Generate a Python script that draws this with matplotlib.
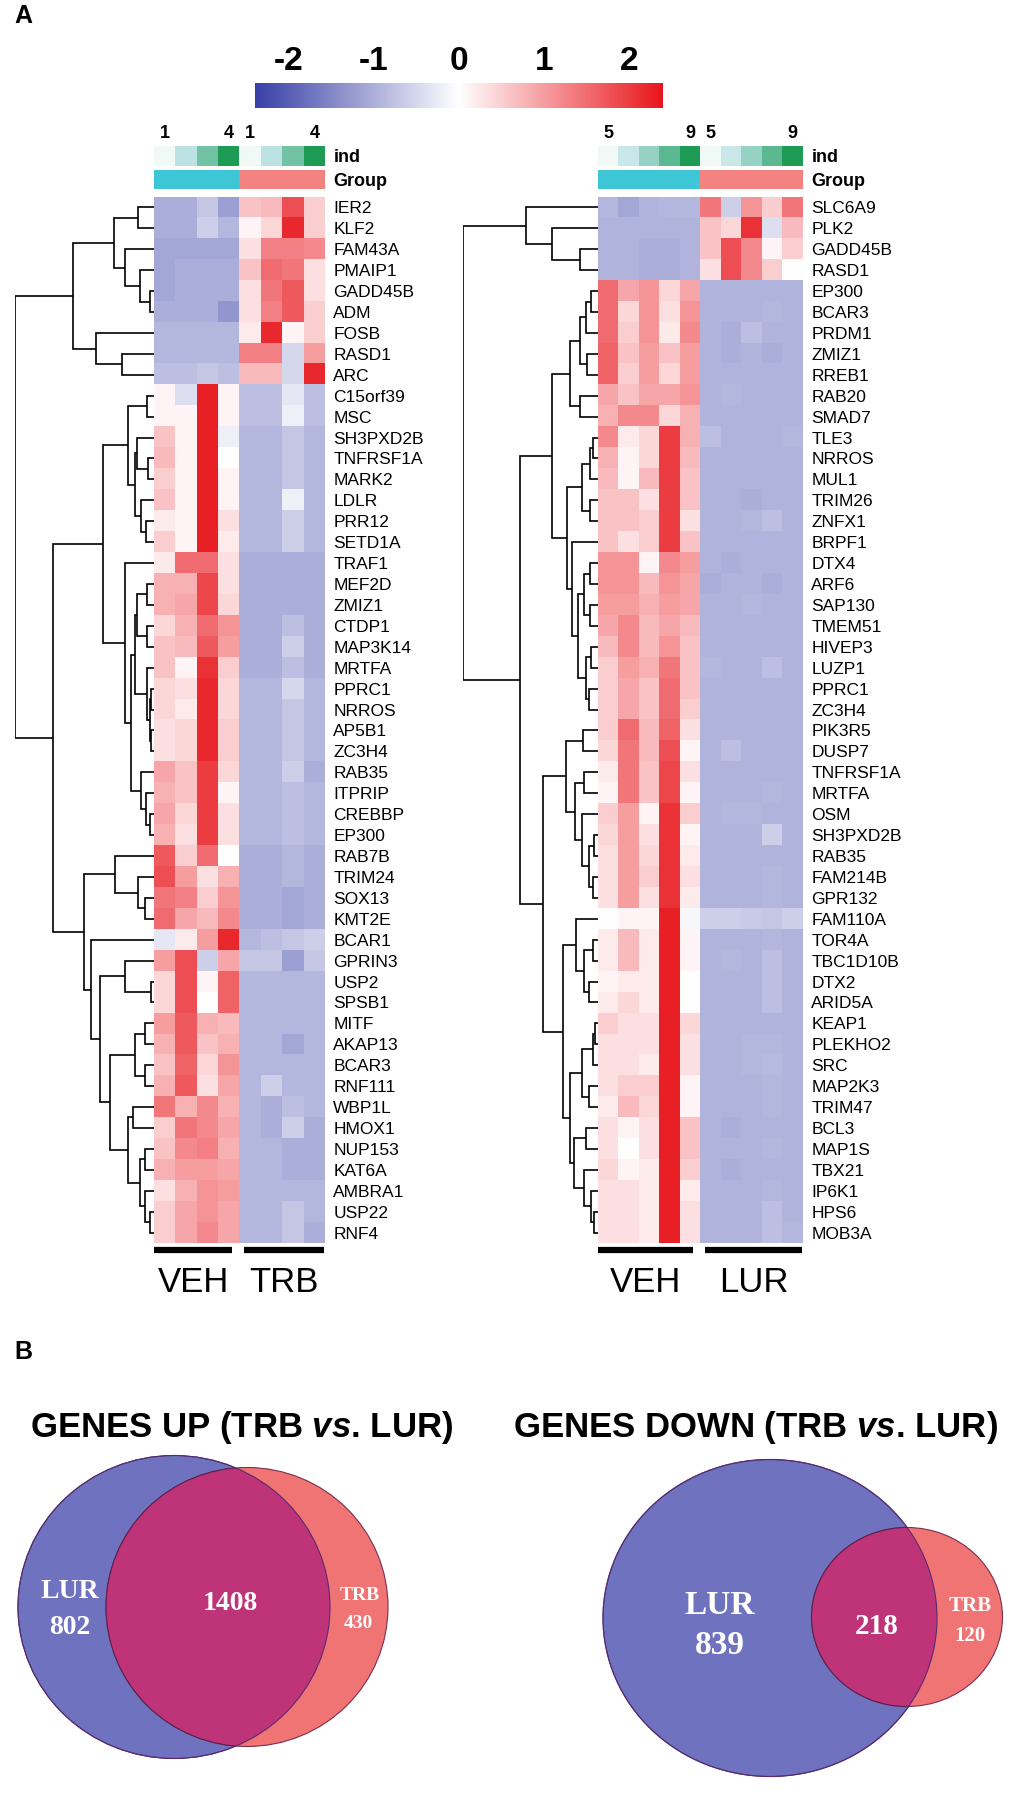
import numpy as np
import matplotlib
matplotlib.use("Agg")
import matplotlib.pyplot as plt
from matplotlib.colors import LinearSegmentedColormap, ListedColormap, Normalize
from matplotlib.cm import ScalarMappable
from matplotlib.patches import Ellipse

plt.rcParams['font.family'] = ['Liberation Sans', 'DejaVu Sans']
plt.rcParams['mathtext.fontset'] = 'custom'
plt.rcParams['mathtext.it'] = 'Liberation Sans:italic:bold'
plt.rcParams['mathtext.rm'] = 'Liberation Sans:bold'
plt.rcParams['axes.unicode_minus'] = False

W, H = 1018, 1802

# ---------------- data: left heatmap (VEH vs TRB) ----------------
genes_trb = ["IER2", "KLF2", "FAM43A", "PMAIP1", "GADD45B", "ADM", "FOSB", "RASD1", "ARC",
             "C15orf39", "MSC", "SH3PXD2B", "TNFRSF1A", "MARK2", "LDLR", "PRR12", "SETD1A",
             "TRAF1", "MEF2D", "ZMIZ1", "CTDP1", "MAP3K14", "MRTFA", "PPRC1", "NRROS", "AP5B1",
             "ZC3H4", "RAB35", "ITPRIP", "CREBBP", "EP300", "RAB7B", "TRIM24", "SOX13", "KMT2E",
             "BCAR1", "GPRIN3", "USP2", "SPSB1", "MITF", "AKAP13", "BCAR3", "RNF111", "WBP1L",
             "HMOX1", "NUP153", "KAT6A", "AMBRA1", "USP22", "RNF4"]
ind_trb = [1, 2, 3, 4, 1, 2, 3, 4]
group_trb = [0, 0, 0, 0, 1, 1, 1, 1]
z_trb = [
    [-1.0, -1.0, -0.7, -1.2, 0.6, 0.7, 1.8, 0.5],
    [-1.0, -1.0, -0.6, -0.9, 0.1, 0.4, 2.2, 0.5],
    [-1.1, -1.1, -1.1, -1.1, 0.3, 1.3, 1.3, 1.2],
    [-1.1, -1.0, -1.0, -1.0, 0.6, 1.5, 1.4, 0.3],
    [-1.1, -1.0, -1.0, -1.0, 0.3, 1.4, 1.7, 0.3],
    [-1.0, -1.0, -1.0, -1.3, 0.3, 1.3, 1.7, 0.5],
    [-0.9, -0.9, -0.9, -0.9, 0.2, 2.2, 0.1, 0.5],
    [-0.9, -0.9, -0.9, -0.9, 1.3, 1.3, -0.5, 1.0],
    [-0.8, -0.8, -0.7, -0.8, 0.7, 0.7, -0.5, 2.2],
    [0.1, -0.4, 2.3, 0.1, -0.8, -0.8, -0.3, -0.8],
    [0.1, 0.1, 2.3, 0.1, -0.8, -0.8, -0.2, -0.8],
    [0.6, 0.1, 2.3, -0.2, -0.9, -0.9, -0.7, -0.9],
    [0.7, 0.1, 2.3, 0.0, -0.9, -0.9, -0.7, -0.9],
    [0.5, 0.1, 2.3, 0.1, -0.9, -0.9, -0.7, -0.9],
    [0.6, 0.1, 2.3, 0.1, -0.9, -0.9, -0.2, -0.9],
    [0.2, 0.1, 2.3, 0.3, -0.9, -0.9, -0.6, -0.9],
    [0.5, 0.1, 2.3, 0.2, -0.9, -0.9, -0.6, -0.9],
    [0.2, 1.5, 1.5, 0.3, -1.0, -1.0, -1.0, -1.0],
    [0.8, 0.8, 1.9, 0.3, -1.0, -1.0, -1.0, -1.0],
    [0.8, 0.9, 1.9, 0.4, -1.0, -1.0, -1.0, -1.0],
    [0.4, 0.8, 1.5, 1.1, -1.0, -1.0, -0.8, -1.0],
    [0.6, 0.7, 1.7, 1.0, -1.0, -1.0, -0.6, -1.0],
    [0.6, 0.1, 2.1, 0.5, -1.0, -1.0, -0.8, -1.0],
    [0.4, 0.3, 2.2, 0.4, -0.9, -0.9, -0.5, -0.9],
    [0.4, 0.2, 2.2, 0.4, -0.9, -0.9, -0.7, -0.9],
    [0.3, 0.4, 2.2, 0.5, -0.9, -0.9, -0.7, -0.9],
    [0.3, 0.4, 2.2, 0.5, -0.9, -0.9, -0.7, -0.9],
    [0.9, 0.6, 2.0, 0.4, -0.9, -0.9, -0.6, -1.0],
    [0.8, 0.6, 2.0, 0.1, -0.9, -0.9, -0.8, -0.9],
    [0.9, 0.4, 2.0, 0.3, -0.9, -0.9, -0.8, -0.9],
    [0.8, 0.3, 2.0, 0.3, -0.9, -0.9, -0.8, -0.9],
    [1.7, 0.5, 1.5, 0.0, -1.0, -1.0, -0.9, -1.0],
    [1.8, 1.0, 0.3, 0.8, -1.0, -1.0, -0.9, -1.0],
    [1.4, 1.3, 0.5, 1.1, -1.0, -1.0, -1.1, -1.0],
    [1.5, 0.9, 0.7, 1.2, -1.0, -1.0, -1.1, -1.0],
    [-0.3, 0.2, 1.0, 2.2, -0.9, -0.8, -0.7, -0.6],
    [1.0, 1.8, -0.6, 0.9, -0.7, -0.7, -1.2, -0.7],
    [0.4, 1.8, 0.1, 1.6, -0.9, -0.9, -0.9, -0.9],
    [0.4, 1.8, 0.0, 1.6, -0.9, -0.9, -0.9, -0.9],
    [1.0, 1.7, 0.8, 0.7, -0.9, -0.9, -0.9, -0.9],
    [0.8, 1.7, 0.6, 0.8, -0.9, -0.9, -1.1, -0.9],
    [0.6, 1.6, 0.4, 1.1, -0.9, -0.9, -0.9, -0.9],
    [0.8, 1.7, 0.3, 0.9, -0.9, -0.6, -0.9, -0.9],
    [1.4, 0.8, 1.2, 0.8, -0.9, -1.0, -0.8, -0.9],
    [0.5, 1.4, 1.2, 0.9, -0.9, -1.0, -0.6, -1.0],
    [0.6, 1.2, 1.3, 0.8, -0.9, -0.9, -1.0, -1.0],
    [0.8, 1.0, 1.0, 0.9, -0.9, -0.9, -1.0, -1.0],
    [0.3, 0.8, 1.1, 1.0, -0.9, -0.9, -0.9, -0.9],
    [0.5, 0.9, 1.1, 0.9, -0.9, -0.9, -0.7, -0.9],
    [0.5, 0.9, 1.2, 0.9, -0.9, -0.9, -0.7, -1.0],
]
# row dendrogram: [merge height, left, right], leaves are row indices
tree_trb = [1.0,
            [0.58, [0.29, [0.115, 0, 1], [0.21, 2, [0.10, 3, [0.03, 4, 5]]]],
                   [0.42, 6, [0.23, 7, 8]]],
            [0.73,
             [0.37,
              [0.19, [0.05, 9, 10], [0.14, [0.12, 11, [0.04, 12, 13]], [0.09, 14, [0.06, 15, 16]]]],
              [0.21, 17, [0.165, [0.14, [0.12, [0.05, 18, 19], [0.05, 20, 21]],
                                        [0.05, 22, [0.03, [0.02, 23, 24], [0.02, 25, 26]]]],
                                 [0.09, 27, [0.06, 28, [0.03, 29, 30]]]]]],
             [0.50,
              [0.28, 31, [0.115, 32, [0.065, 33, 34]]],
              [0.45, 35,
               [0.39, [0.21, 36, [0.02, 37, 38]],
                [0.32, [0.14, [0.065, 39, 40], [0.065, 41, 42]],
                 [0.19, [0.15, 43, 44], [0.10, [0.065, 45, 46], [0.065, 47, [0.03, 48, 49]]]]]]]]]]

# ---------------- data: right heatmap (VEH vs LUR) ----------------
genes_lur = ["SLC6A9", "PLK2", "GADD45B", "RASD1", "EP300", "BCAR3", "PRDM1", "ZMIZ1", "RREB1",
             "RAB20", "SMAD7", "TLE3", "NRROS", "MUL1", "TRIM26", "ZNFX1", "BRPF1", "DTX4", "ARF6",
             "SAP130", "TMEM51", "HIVEP3", "LUZP1", "PPRC1", "ZC3H4", "PIK3R5", "DUSP7",
             "TNFRSF1A", "MRTFA", "OSM", "SH3PXD2B", "RAB35", "FAM214B", "GPR132", "FAM110A",
             "TOR4A", "TBC1D10B", "DTX2", "ARID5A", "KEAP1", "PLEKHO2", "SRC", "MAP2K3", "TRIM47",
             "BCL3", "MAP1S", "TBX21", "IP6K1", "HPS6", "MOB3A"]
ind_lur = [5, 6, 7, 8, 9, 5, 6, 7, 8, 9]
group_lur = [0, 0, 0, 0, 0, 1, 1, 1, 1, 1]
z_lur = [
    [-0.9, -1.1, -0.95, -0.9, -0.9, 1.4, -0.6, 1.1, 0.5, 1.4],
    [-0.95, -0.95, -0.95, -0.95, -0.95, 0.6, 0.4, 2.1, -0.4, 0.7],
    [-0.95, -0.95, -1.0, -1.0, -0.95, 0.6, 1.8, 1.2, 0.1, 0.5],
    [-0.95, -0.95, -1.0, -1.0, -0.95, 0.3, 1.8, 1.2, 0.5, 0.0],
    [1.5, 0.9, 1.1, 0.4, 0.9, -0.95, -0.95, -0.95, -0.95, -0.95],
    [1.5, 0.4, 1.1, 0.3, 1.1, -0.95, -0.95, -0.95, -0.9, -0.95],
    [1.5, 0.5, 1.1, 0.2, 1.2, -0.95, -1.0, -0.8, -0.95, -0.95],
    [1.6, 0.6, 1.0, 0.6, 1.0, -0.95, -1.0, -0.95, -1.0, -0.95],
    [1.6, 0.5, 1.0, 0.4, 1.0, -0.95, -0.95, -0.95, -0.95, -0.95],
    [0.9, 0.6, 0.9, 0.9, 1.1, -0.95, -0.9, -0.95, -0.95, -0.95],
    [0.8, 1.2, 1.2, 0.4, 0.8, -0.95, -0.95, -0.95, -0.95, -0.95],
    [1.2, 0.2, 0.4, 2.0, 0.8, -0.8, -0.95, -0.95, -0.95, -0.9],
    [0.8, 0.1, 0.4, 2.0, 0.7, -0.95, -0.95, -0.95, -0.95, -0.95],
    [0.7, 0.1, 0.7, 2.0, 0.6, -0.95, -0.95, -0.95, -0.95, -0.95],
    [0.6, 0.6, 0.3, 2.0, 0.6, -0.95, -0.95, -1.0, -0.95, -0.95],
    [0.6, 0.6, 0.5, 2.0, 0.3, -0.95, -0.95, -0.9, -0.8, -0.95],
    [0.6, 0.3, 0.5, 2.0, 0.6, -0.95, -0.95, -0.95, -0.95, -0.95],
    [1.1, 1.1, 0.1, 1.2, 1.0, -0.95, -1.0, -0.95, -0.95, -0.95],
    [1.1, 1.1, 0.7, 1.1, 0.9, -1.0, -0.95, -0.95, -1.0, -0.95],
    [1.0, 1.0, 0.8, 1.0, 0.9, -0.95, -0.95, -0.9, -0.95, -0.95],
    [0.9, 1.2, 0.7, 0.9, 0.7, -0.95, -0.95, -0.95, -0.95, -0.95],
    [0.7, 1.2, 0.7, 1.1, 0.6, -0.95, -0.95, -0.95, -0.95, -0.95],
    [0.5, 1.0, 0.8, 1.4, 0.6, -0.9, -0.95, -0.95, -0.8, -0.95],
    [0.5, 0.9, 0.6, 1.5, 0.6, -0.95, -0.95, -0.95, -0.95, -0.95],
    [0.5, 0.9, 0.6, 1.5, 0.5, -0.95, -0.95, -0.95, -0.95, -0.95],
    [0.5, 1.5, 0.7, 1.6, 0.3, -0.95, -0.95, -0.95, -0.95, -0.95],
    [0.4, 1.4, 0.7, 1.8, 0.1, -0.95, -0.8, -0.95, -0.95, -0.95],
    [0.2, 1.4, 0.6, 1.9, 0.3, -0.95, -0.95, -0.95, -0.95, -0.95],
    [0.1, 1.4, 0.6, 1.9, 0.1, -0.95, -0.95, -0.95, -0.9, -0.95],
    [0.5, 1.0, 0.1, 2.1, 0.5, -0.95, -0.9, -0.9, -0.95, -0.95],
    [0.4, 1.0, 0.3, 2.1, 0.1, -0.95, -0.95, -0.95, -0.6, -0.95],
    [0.3, 1.0, 0.4, 2.1, 0.2, -0.95, -0.95, -0.95, -0.95, -0.95],
    [0.3, 1.0, 0.5, 2.1, 0.3, -0.95, -0.95, -0.95, -0.9, -0.95],
    [0.3, 1.0, 0.3, 2.1, 0.2, -0.95, -0.95, -0.95, -0.9, -0.95],
    [0.0, 0.1, 0.1, 2.3, -0.1, -0.6, -0.6, -0.65, -0.7, -0.6],
    [0.2, 0.7, 0.2, 2.3, 0.1, -0.95, -0.95, -0.95, -0.9, -0.95],
    [0.2, 0.7, 0.2, 2.3, 0.1, -0.95, -0.9, -0.95, -0.8, -0.95],
    [0.1, 0.2, 0.2, 2.3, 0.0, -0.95, -0.95, -0.95, -0.8, -0.95],
    [0.2, 0.4, 0.2, 2.3, 0.0, -0.95, -0.95, -0.95, -0.8, -0.95],
    [0.5, 0.3, 0.3, 2.3, 0.4, -0.95, -0.95, -0.95, -0.95, -0.95],
    [0.3, 0.3, 0.3, 2.3, 0.3, -0.95, -0.95, -0.9, -0.9, -0.95],
    [0.3, 0.3, 0.2, 2.3, 0.3, -0.95, -0.95, -0.9, -0.85, -0.95],
    [0.3, 0.5, 0.5, 2.3, 0.1, -0.95, -0.95, -0.95, -0.9, -0.95],
    [0.2, 0.7, 0.4, 2.3, 0.1, -0.95, -0.95, -0.95, -0.9, -0.95],
    [0.3, 0.1, 0.3, 2.3, 0.6, -0.95, -1.0, -0.95, -0.95, -0.95],
    [0.3, 0.0, 0.3, 2.3, 0.6, -0.95, -0.95, -0.95, -0.9, -0.95],
    [0.4, 0.1, 0.2, 2.3, 0.5, -0.95, -1.0, -0.95, -0.95, -0.95],
    [0.3, 0.3, 0.2, 2.3, 0.2, -0.95, -0.95, -0.95, -0.9, -0.95],
    [0.3, 0.3, 0.2, 2.3, 0.3, -0.95, -0.95, -0.95, -0.8, -0.95],
    [0.3, 0.3, 0.2, 2.3, 0.3, -0.95, -0.95, -0.95, -0.8, -0.9],
]
tree_lur = [1.0,
            [0.53, 0, [0.34, 1, [0.13, 2, 3]]],
            [0.58,
             [0.34,
              [0.21, [0.13, [0.09, [0.05, 4, 5], 6], [0.08, 7, 8]], [0.13, 9, 10]],
              [0.23, [0.12, [0.06, [0.04, 11, 12], 13], [0.06, 14, 15]],
               [0.19, 16, [0.15, [0.10, [0.06, 17, 18], [0.06, 19, 20]],
                           [0.09, [0.05, 21, 22], [0.07, 23, 24]]]]]],
             [0.41,
              [0.24, [0.11, 25, 26],
               [0.17, [0.10, 27, 28], [0.12, 29, [0.07, [0.03, 30, 31], [0.04, 32, 33]]]]],
              [0.26, [0.16, 34, [0.10, [0.04, 35, 36], [0.07, 37, 38]]],
               [0.21, [0.12, [0.04, [0.02, 39, 40], 41], [0.07, 42, 43]],
                [0.18, [0.09, 44, 45], [0.10, 46, [0.05, 47, [0.03, 48, 49]]]]]]]]]

# ---------------- data: Venn diagrams ----------------
venn_titles = ["GENES UP (TRB $vs$. LUR)", "GENES DOWN (TRB $vs$. LUR)"]
venn_sets = ["LUR", "TRB"]
up_counts = [802, 1408, 430]     # LUR only, both, TRB only
down_counts = [839, 218, 120]

cbar_ticks = [-2, -1, 0, 1, 2]

# ---------------- figure ----------------
fig = plt.figure(figsize=(W / 100, H / 100), dpi=100)


def px_axes(x0, y0, x1, y1):
    return fig.add_axes([x0 / W, 1 - y1 / H, (x1 - x0) / W, (y1 - y0) / H])


heat_cmap = LinearSegmentedColormap.from_list("bwr2", ["#3840A6", "#FFFFFF", "#E8161C"])
ind_cmap = LinearSegmentedColormap.from_list("ind", ["#F1F9F7", "#BCE2E4", "#72C3A6", "#1E9C55"])
grp_cmap = ListedColormap(["#3CC6D6", "#F28380"])
VMIN, VMAX = -2.4, 2.4

over = fig.add_axes([0, 0, 1, 1])
over.set_xlim(0, W)
over.set_ylim(H, 0)
over.axis("off")


def draw_tree(ax, node):
    if not isinstance(node, list):
        return float(node), 0.0
    h, a, b = node
    ya, ha = draw_tree(ax, a)
    yb, hb = draw_tree(ax, b)
    ax.plot([ha, h, h, hb], [ya, ya, yb, yb], color="black", lw=1.2,
            solid_joinstyle="miter", solid_capstyle="butt")
    return (ya + yb) / 2, h


def heat_block(x0, x1, dx0, z, genes, tree, ind, group, nums, names):
    z = np.array(z)
    nrow, ncol = z.shape
    top, bot = 197, 1243
    ax = px_axes(x0, top, x1, bot)
    ax.imshow(z, cmap=heat_cmap, vmin=VMIN, vmax=VMAX, aspect="auto", interpolation="nearest")
    ax.set_xticks([])
    ax.yaxis.tick_right()
    ax.set_yticks(range(nrow))
    ax.set_yticklabels(genes, fontsize=12.5)
    ax.tick_params(axis="y", length=0, pad=6)
    for s in ax.spines.values():
        s.set_visible(False)

    # annotation rows
    ind = np.array(ind, dtype=float)
    nv = group.count(0)
    lo, hi = ind[:nv].min(), ind[:nv].max()
    axi = px_axes(x0, 146, x1, 166)
    axi.imshow(((ind - lo) / (hi - lo))[None, :], cmap=ind_cmap, vmin=0, vmax=1,
               aspect="auto", interpolation="nearest")
    axi.xaxis.tick_top()
    axi.set_xticks([0, nv - 1, nv, ncol - 1])
    axi.set_xticklabels(nums, fontsize=13, fontweight="bold")
    axi.yaxis.tick_right()
    axi.set_yticks([0])
    axi.set_yticklabels(["ind"], fontsize=13, fontweight="bold")
    axi.tick_params(length=0, pad=3)
    axi.tick_params(axis="y", pad=6)
    for s in axi.spines.values():
        s.set_visible(False)

    axg = px_axes(x0, 170, x1, 189)
    axg.imshow(np.array(group)[None, :], cmap=grp_cmap, vmin=0, vmax=1,
               aspect="auto", interpolation="nearest")
    axg.set_xticks([])
    axg.yaxis.tick_right()
    axg.set_yticks([0])
    axg.set_yticklabels(["Group"], fontsize=13, fontweight="bold")
    axg.tick_params(length=0, pad=6)
    for s in axg.spines.values():
        s.set_visible(False)

    # dendrogram
    axd = px_axes(dx0, top, x0, bot)
    draw_tree(axd, tree)
    axd.set_xlim(1.0, 0.0)
    axd.set_ylim(nrow - 0.5, -0.5)
    axd.axis("off")

    # group bars and names
    cw = (x1 - x0) / ncol
    for k, (a, b) in enumerate([(0, nv), (nv, ncol)]):
        bx0 = x0 + a * cw + (0 if k == 0 else 5)
        bx1 = x0 + b * cw - (7 if k == 0 else 1)
        over.plot([bx0, bx1], [1250, 1250], color="black", lw=4.5, solid_capstyle="butt")
        over.text((bx0 + bx1) / 2, 1283, names[k], fontsize=25, ha="center", va="center")


heat_block(154, 325, 15, z_trb, genes_trb, tree_trb, ind_trb, group_trb,
           ["1", "4", "1", "4"], ["VEH", "TRB"])
heat_block(598, 803, 463, z_lur, genes_lur, tree_lur, ind_lur, group_lur,
           ["5", "9", "5", "9"], ["VEH", "LUR"])

# colour bar
cax = px_axes(255, 83, 663, 108)
cb = fig.colorbar(ScalarMappable(norm=Normalize(VMIN, VMAX), cmap=heat_cmap), cax=cax,
                  orientation="horizontal", ticks=cbar_ticks)
cb.outline.set_visible(False)
cax.xaxis.set_ticks_position("top")
cax.tick_params(length=0, pad=4, labelsize=24)
for t in cax.get_xticklabels():
    t.set_fontweight("bold")

# panel letters
over.text(14, 16, "A", fontsize=18, fontweight="bold", ha="left", va="center")
over.text(14, 1352, "B", fontsize=18, fontweight="bold", ha="left", va="center")

# ---------------- Venn diagrams ----------------
BLUE, RED, MIX = "#6F72BE", "#F07474", "#BF3479"
venns = [
    dict(counts=up_counts, title=venn_titles[0], tx=242,
         blue=(174, 1607, 312, 303), red=(247, 1607, 282, 279),
         pos=[(70, 1592), (70, 1627), (230, 1604), (360, 1596), (358, 1624)],
         fs=[20, 20, 20, 14, 14]),
    dict(counts=down_counts, title=venn_titles[1], tx=755,
         blue=(770, 1618, 334, 317), red=(907, 1617, 191, 179),
         pos=[(720, 1605), (720, 1646), (877, 1626), (970, 1606), (970, 1636)],
         fs=[24, 24, 21, 15, 15]),
]
for v in venns:
    over.text(v["tx"], 1427, v["title"], fontsize=25, fontweight="bold", ha="center", va="center")
    bx, by, bw, bh = v["blue"]
    rx, ry, rw, rh = v["red"]
    eb = Ellipse((bx, by), bw, bh, facecolor=BLUE, edgecolor="#4A3C80", lw=0.8)
    er = Ellipse((rx, ry), rw, rh, facecolor=RED, edgecolor="#7A3050", lw=0.8)
    over.add_patch(eb)
    over.add_patch(er)
    em = Ellipse((rx, ry), rw, rh, facecolor=MIX, edgecolor="#5A2050", lw=0.8)
    over.add_patch(em)
    em.set_clip_path(eb)
    over.add_patch(Ellipse((bx, by), bw, bh, facecolor="none", edgecolor="#5A2A70", lw=0.8))
    c = v["counts"]
    labels = [venn_sets[0], str(c[0]), str(c[1]), venn_sets[1], str(c[2])]
    for (x, y), s, f in zip(v["pos"], labels, v["fs"]):
        over.text(x, y, s, fontsize=f, fontweight="bold", color="white", ha="center", va="center",
                  family=["Liberation Serif", "DejaVu Serif"])

fig.savefig("out.png", dpi=100)
